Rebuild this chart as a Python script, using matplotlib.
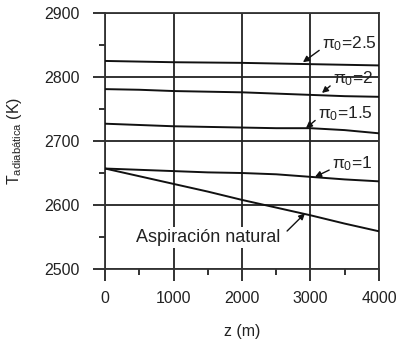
import matplotlib
matplotlib.use("Agg")
import matplotlib.pyplot as plt
from matplotlib.ticker import MultipleLocator

plt.rcParams['font.family'] = ['Liberation Sans', 'DejaVu Sans']
plt.rcParams['mathtext.fontset'] = 'custom'
plt.rcParams['mathtext.rm'] = 'Liberation Sans'
plt.rcParams['mathtext.it'] = 'Liberation Sans'
plt.rcParams['mathtext.bf'] = 'Liberation Sans:bold'

z = [0, 500, 1000, 1500, 2000, 2500, 3000, 3500, 4000]
T_pi25 = [2825, 2824, 2823, 2822.5, 2822, 2821, 2820, 2819, 2818]
T_pi2 = [2781, 2780, 2778, 2777, 2776, 2774, 2772, 2770, 2769]
T_pi15 = [2727, 2725, 2723, 2722, 2721, 2720, 2720, 2717, 2712]
T_pi1 = [2657, 2655, 2653, 2651, 2650, 2648, 2644, 2640, 2637]
T_nat = [2657, 2645, 2633, 2621, 2608, 2596, 2584, 2571, 2559]

series = [T_pi25, T_pi2, T_pi15, T_pi1, T_nat]

labels = [r'$\pi_0$=2.5', r'$\pi_0$=2', r'$\pi_0$=1.5', r'$\pi_0$=1']
label_tip = [(2890, 2823), (3168, 2775), (2934, 2720), (3066, 2644)]
label_pos = [(3168, 2852), (3328, 2797), (3109, 2743), (3314, 2664)]

xticks = [0, 1000, 2000, 3000, 4000]
yticks = [2500, 2600, 2700, 2800, 2900]

fig = plt.figure(figsize=(4.01, 3.49), dpi=100)
ax = fig.add_axes([0.262, 0.229, 0.683, 0.734])

for s in series:
    ax.plot(z, s, color='#111111', lw=1.4, zorder=3)

ax.set_xlim(0, 4000)
ax.set_ylim(2500, 2900)
ax.set_xticks(xticks)
ax.set_yticks(yticks)
ax.xaxis.set_minor_locator(MultipleLocator(500))
ax.yaxis.set_minor_locator(MultipleLocator(50))
ax.grid(True, which='major', color='#222222', lw=1.3)
ax.tick_params(which='major', direction='out', length=8.5, width=1.3,
               labelsize=11.5, colors='#222222')
ax.tick_params(axis='x', which='major', pad=7)
ax.tick_params(axis='y', which='major', pad=10)
ax.tick_params(which='minor', direction='out', length=4.5, width=1.3,
               colors='#222222')
for sp in ax.spines.values():
    sp.set_color('#333333')
    sp.set_linewidth(1.3)

ax.set_xlabel('z (m)', fontsize=11.5, color='#222222', labelpad=13)
ax.set_ylabel(r'T$_{\mathrm{adiabática}}$ (K)', fontsize=11.5,
              color='#222222', labelpad=14)

for lab, tip, pos in zip(labels, label_tip, label_pos):
    ax.annotate(lab, xy=tip, xytext=pos, fontsize=12.5, color='#222222',
                ha='left', va='center', zorder=5,
                arrowprops=dict(arrowstyle='-|>', color='#111111', lw=1.0,
                                mutation_scale=9, shrinkA=0, shrinkB=0,
                                relpos=(0.0, 0.25)))

ax.annotate('Aspiración natural', xy=(2920, 2587), xytext=(2560, 2549),
            fontsize=13, color='#222222', ha='right', va='center', zorder=5,
            bbox=dict(boxstyle='square,pad=0.1', fc='white', ec='none'),
            arrowprops=dict(arrowstyle='-|>', color='#111111', lw=1.0,
                            mutation_scale=9, shrinkA=5, shrinkB=0,
                            relpos=(1.0, 0.5)))

fig.savefig('out.png', dpi=100)
